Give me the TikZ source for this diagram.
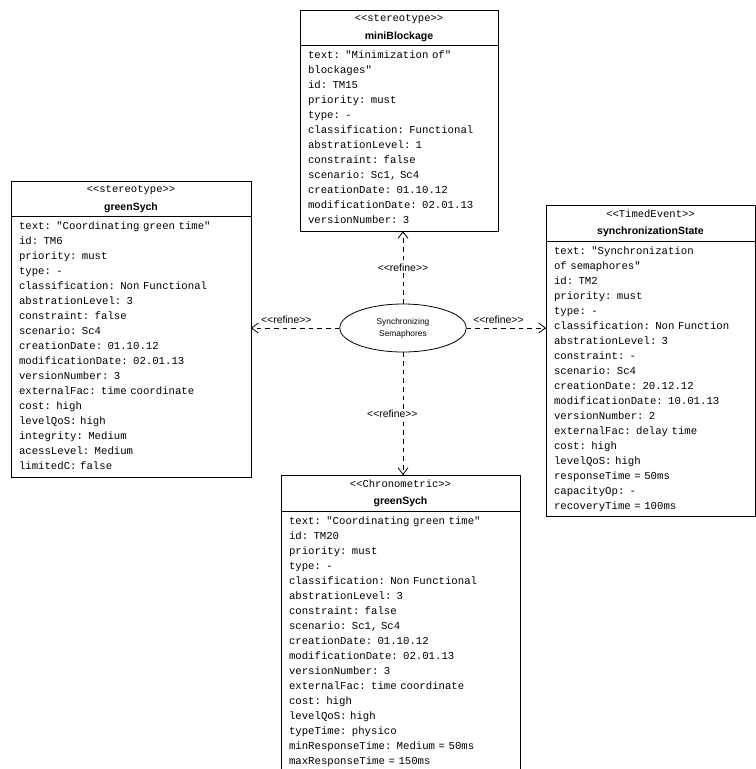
\documentclass[tikz,border=0pt]{standalone}
\usepackage{fontspec}
\setmonofont{Liberation Mono}
\newfontfamily\umlsans{Liberation Sans}
\usetikzlibrary{positioning,shapes.geometric,arrows.meta}
\newcommand{\stereo}[1]{<\kern0pt<#1>\kern0pt>}
\newcommand{\attrfont}{\ttfamily\fontsize{8}{11.25}\selectfont\spaceskip=0.6em\xspaceskip=0.6em\relax}

\begin{document}
\begin{tikzpicture}[x=0.75pt, y=-0.75pt,
    classhead/.style={draw, line width=0.6pt, outer sep=0pt, inner xsep=0pt, minimum height=25.5pt, align=center, text width=#1, font=\fontsize{7.9}{11.25}\selectfont},
    classbody/.style={draw, line width=0.6pt, outer sep=0pt, inner xsep=6pt, inner ysep=2pt, align=left, text width=#1, font=\attrfont},
    usecase/.style={draw, ellipse, line width=0.6pt, minimum width=95pt, minimum height=36pt, inner sep=0pt, align=center, font=\umlsans\fontsize{6.3}{9}\selectfont},
    refine/.style={line width=0.6pt, dash pattern=on 3.5pt off 3pt, -{Straight Barb[length=5pt,width=7.5pt]}},
    reflabel/.style={fill=white, inner sep=1pt, font=\umlsans\fontsize{7.8}{9}\selectfont}]
    \useasboundingbox (0,0) rectangle (756,769);

    \node[classhead=148.5pt, anchor=north west] (miniHead) at (300,10) {{\ttfamily\stereo{stereotype}}\\[2pt]{\umlsans\bfseries miniBlockage}};
    \node[classbody=136.5pt, below=0pt of miniHead] (miniBody) {\strut text: "Minimization of"\\blockages"\\id: TM15\\priority: must\\type: -\\classification: Functional\\abstrationLevel: 1\\constraint: false\\scenario: Sc1, Sc4\\creationDate: 01.10.12\\modificationDate: 02.01.13\\versionNumber: 3\strut};

    \node[classhead=180pt, anchor=north west] (greenHead) at (11,181) {{\ttfamily\stereo{stereotype}}\\[2pt]{\umlsans\bfseries greenSych}};
    \node[classbody=168pt, below=0pt of greenHead] (greenBody) {\strut text: "Coordinating green time"\\id: TM6\\priority: must\\type: -\\classification: Non Functional\\abstrationLevel: 3\\constraint: false\\scenario: Sc4\\creationDate: 01.10.12\\modificationDate: 02.01.13\\versionNumber: 3\\externalFac: time coordinate\\cost: high\\levelQoS: high\\integrity: Medium\\acessLevel: Medium\\limitedC: false\strut};

    \node[classhead=156.75pt, anchor=north west] (syncHead) at (546,205) {{\ttfamily\stereo{TimedEvent}}\\[2pt]{\umlsans\bfseries synchronizationState}};
    \node[classbody=144.75pt, below=0pt of syncHead] (syncBody) {\strut text: "Synchronization\\of semaphores"\\id: TM2\\priority: must\\type: -\\classification: Non Function\\abstrationLevel: 3\\constraint: -\\scenario: Sc4\\creationDate: 20.12.12\\modificationDate: 10.01.13\\versionNumber: 2\\externalFac: delay time\\cost: high\\levelQoS: high\\responseTime = 50ms\\capacityOp: -\\recoveryTime = 100ms\strut};

    \node[classhead=179.25pt, anchor=north west] (chronoHead) at (281,475) {{\ttfamily\stereo{Chronometric}}\\[2pt]{\umlsans\bfseries greenSych}};
    \node[classbody=167.25pt, below=0pt of chronoHead] (chronoBody) {\strut text: "Coordinating green time"\\id: TM20\\priority: must\\type: -\\classification: Non Functional\\abstrationLevel: 3\\constraint: false\\scenario: Sc1, Sc4\\creationDate: 01.10.12\\modificationDate: 02.01.13\\versionNumber: 3\\externalFac: time coordinate\\cost: high\\levelQoS: high\\typeTime: physico\\minResponseTime: Medium = 50ms\\maxResponseTime = 150ms\strut};

    \node[usecase] (semaphores) at (403,328) {Synchronizing\\Semaphores};

    \draw[refine] (semaphores.north) -- (semaphores.north |- miniBody.south) node[reflabel, midway] {\stereo{refine}};
    \draw[refine] (semaphores.west) -- (semaphores.west -| greenBody.east) node[reflabel, pos=0.6, above=2pt] {\stereo{refine}};
    \draw[refine] (semaphores.east) -- (semaphores.east -| syncBody.west) node[reflabel, pos=0.4, above=2pt] {\stereo{refine}};
    \draw[refine] (semaphores.south) -- (semaphores.south |- chronoHead.north) node[reflabel, midway, xshift=-8pt] {\stereo{refine}};
\end{tikzpicture}
\end{document}
